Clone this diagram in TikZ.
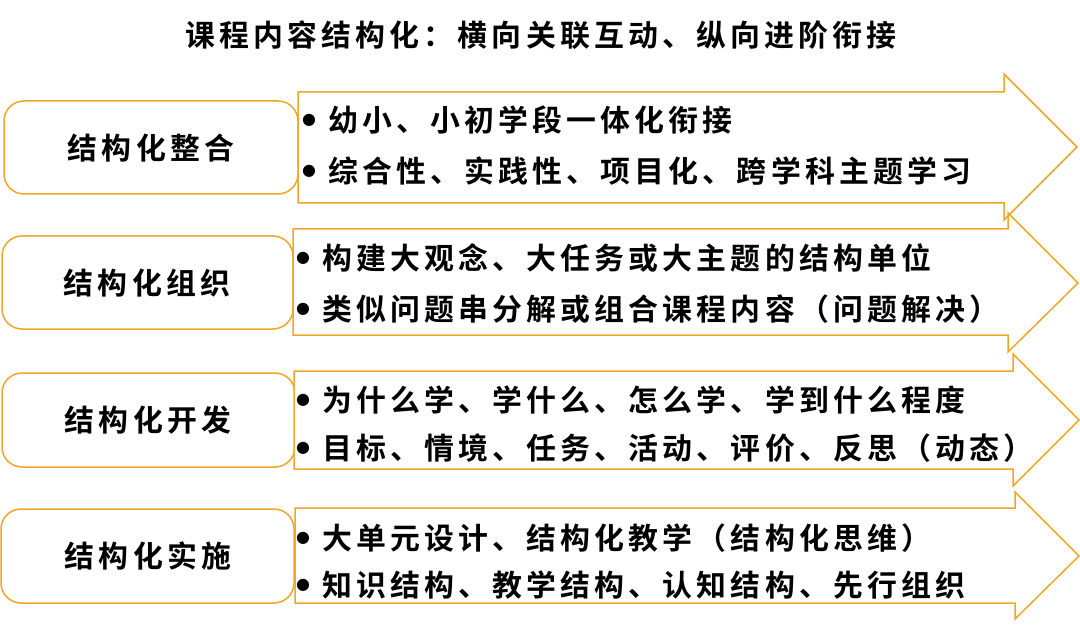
\documentclass[tikz,border=0pt]{standalone}
\usepackage{fontspec}
\newfontfamily\cjk{Noto Sans CJK SC}[UprightFont=* Bold, LetterSpace=14]
\newfontfamily\dotfont{DejaVu Sans}
\newlength{\du}
\setlength{\du}{1bp}
\definecolor{boxline}{rgb}{0.941176, 0.650980, 0.156863}
\newcommand{\itemdot}{\raisebox{7\du}{\dotfont\fontsize{16}{18}\selectfont ●}\hspace{12\du}}
\tikzset{
  labelbox/.style={draw=boxline, line width=1.5\du, rounded corners=20\du, fill=white},
  arrowbox/.style={draw=boxline, line width=1.5\du, fill=white},
  cjktext/.style={inner sep=0pt, font=\cjk\fontsize{30}{36}\selectfont},
}

\begin{document}
\begin{tikzpicture}
\pgftransformxscale{1.000000}
\pgftransformyscale{-1.000000}
\useasboundingbox (0\du,0\du) rectangle (1080\du,635\du);
\node[cjktext] (title) at (541\du,35\du){课程内容结构化：横向关联互动、纵向进阶衔接};
% row 1
\draw[labelbox] (4\du,101\du) rectangle (298\du,194\du);
\node[cjktext] (zhenghe) at (151\du,148\du){结构化整合};
\draw[arrowbox] (298\du,92\du)--(1004\du,92\du)--(1004\du,74\du)--(1077\du,147\du)--(1004\du,220\du)--(1004\du,203\du)--(298\du,203\du)--cycle;
\node[cjktext, anchor=west] (zhenghe1) at (302\du,120\du){\itemdot 幼小、小初学段一体化衔接};
\node[cjktext, anchor=west] (zhenghe2) at (302\du,171\du){\itemdot 综合性、实践性、项目化、跨学科主题学习};
% row 2
\draw[labelbox] (2\du,236\du) rectangle (293\du,329\du);
\node[cjktext] (zuzhi) at (147\du,283\du){结构化组织};
\draw[arrowbox] (293\du,229\du)--(1008\du,229\du)--(1008\du,213\du)--(1078\du,283\du)--(1008\du,352\du)--(1008\du,335\du)--(293\du,335\du)--cycle;
\node[cjktext, anchor=west] (zuzhi1) at (296\du,258\du){\itemdot 构建大观念、大任务或大主题的结构单位};
\node[cjktext, anchor=west] (zuzhi2) at (296\du,309\du){\itemdot 类似问题串分解或组合课程内容（问题解决）};
% row 3
\draw[labelbox] (2\du,373\du) rectangle (295\du,467\du);
\node[cjktext] (kaifa) at (148\du,420\du){结构化开发};
\draw[arrowbox] (294\du,371\du)--(1013\du,371\du)--(1013\du,354\du)--(1079\du,420\du)--(1013\du,486\du)--(1013\du,469\du)--(294\du,469\du)--cycle;
\node[cjktext, anchor=west] (kaifa1) at (296\du,400\du){\itemdot 为什么学、学什么、怎么学、学到什么程度};
\node[cjktext, anchor=west] (kaifa2) at (296\du,448\du){\itemdot 目标、情境、任务、活动、评价、反思（动态）};
% row 4
\draw[labelbox] (1\du,509\du) rectangle (294\du,603\du);
\node[cjktext] (shishi) at (148\du,556\du){结构化实施};
\draw[arrowbox] (295\du,508\du)--(1015\du,508\du)--(1015\du,492\du)--(1079\du,556\du)--(1015\du,619\du)--(1015\du,603\du)--(295\du,603\du)--cycle;
\node[cjktext, anchor=west] (shishi1) at (296\du,538\du){\itemdot 大单元设计、结构化教学（结构化思维）};
\node[cjktext, anchor=west] (shishi2) at (296\du,585\du){\itemdot 知识结构、教学结构、认知结构、先行组织};
\end{tikzpicture}
\end{document}
